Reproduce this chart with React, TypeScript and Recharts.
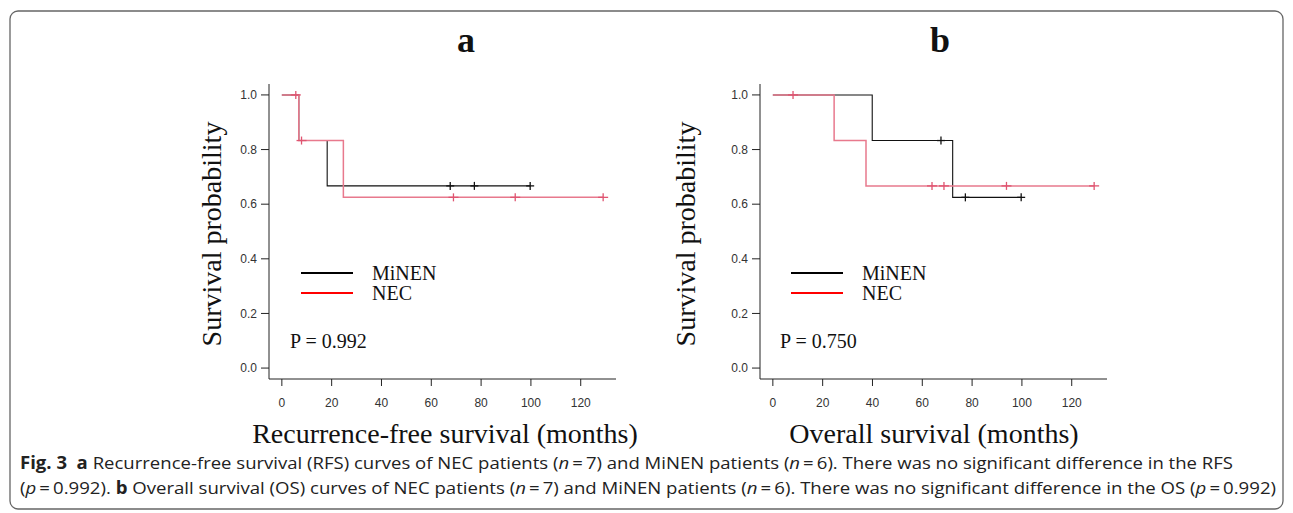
import React from 'react';
import { ComposedChart, Line, Scatter, XAxis, YAxis } from 'recharts';

// RFS panel (a)
const rfsMinenTimes = [0, 6.8, 18.2, 99.7];
const rfsMinenSurv = [1, 0.833, 0.667, 0.667];
const rfsMinenCensorTimes = [67.6, 77.3, 99.7];
const rfsMinenCensorSurv = [0.667, 0.667, 0.667];

const rfsNecTimes = [0, 6.8, 24.7, 129];
const rfsNecSurv = [1, 0.833, 0.625, 0.625];
const rfsNecCensorTimes = [5.6, 7.9, 68.9, 93.7, 129];
const rfsNecCensorSurv = [1, 0.833, 0.625, 0.625, 0.625];

// OS panel (b)
const osMinenTimes = [0, 39.9, 72.2, 99.7];
const osMinenSurv = [1, 0.833, 0.625, 0.625];
const osMinenCensorTimes = [67.5, 77.3, 99.7];
const osMinenCensorSurv = [0.833, 0.625, 0.625];

const osNecTimes = [0, 24.6, 37.4, 129];
const osNecSurv = [1, 0.833, 0.667, 0.667];
const osNecCensorTimes = [8.1, 63.9, 68.7, 93.8, 129];
const osNecCensorSurv = [1, 0.667, 0.667, 0.667, 0.667];

const xTicks = [0, 20, 40, 60, 80, 100, 120];
const yTicks = [0, 0.2, 0.4, 0.6, 0.8, 1.0];
const groups = ['MiNEN', 'NEC'];

const zip = (xs: number[], ys: number[]) => xs.map((x, i) => ({ x, y: ys[i] }));

const BLACK = '#111';
const PINK = '#e8798d';
const PINK_MARK = '#df5470';

const plus = (color: string, arm: number) => (p: any) => {
  const { cx, cy } = p;
  if (cx == null || cy == null) return <g />;
  return (
    <g>
      <line x1={cx - arm} x2={cx + arm} y1={cy} y2={cy} stroke={color} strokeWidth={1.3} />
      <line x1={cx} x2={cx} y1={cy - 4} y2={cy + 4} stroke={color} strokeWidth={1.3} />
    </g>
  );
};

const tickStyle = { fontFamily: '"Liberation Sans", Arial, sans-serif', fontSize: 12, fill: '#333' };

interface PanelProps {
  left: number;
  minen: { x: number; y: number }[];
  nec: { x: number; y: number }[];
  minenCensor: { x: number; y: number }[];
  necCensor: { x: number; y: number }[];
}

const Panel: React.FC<PanelProps> = ({ left, minen, nec, minenCensor, necCensor }) => (
  <div style={{ position: 'absolute', left, top: 0 }}>
    <ComposedChart width={700} height={513} margin={{ top: 84, right: 84, bottom: 104, left: 209 }}>
      <XAxis
        dataKey="x"
        type="number"
        domain={[-5.16, 134.16]}
        allowDataOverflow
        ticks={xTicks}
        tickSize={7}
        tickMargin={12}
        height={30}
        tick={tickStyle}
        stroke="#222"
      />
      <YAxis
        dataKey="y"
        type="number"
        domain={[-0.04, 1.04]}
        allowDataOverflow
        ticks={yTicks}
        tickFormatter={(v: number) => v.toFixed(1)}
        tickSize={8}
        tickMargin={4}
        width={60}
        tick={tickStyle}
        stroke="#222"
      />
      <Line data={minen} dataKey="y" type="stepAfter" stroke={BLACK} strokeWidth={1.1} dot={false} activeDot={false} isAnimationActive={false} />
      <Line data={nec} dataKey="y" type="stepAfter" stroke={PINK} strokeWidth={1.5} dot={false} activeDot={false} isAnimationActive={false} />
      <Scatter data={minenCensor} dataKey="y" shape={plus(BLACK, 4)} isAnimationActive={false} />
      <Scatter data={necCensor} dataKey="y" shape={plus(PINK_MARK, 5)} isAnimationActive={false} />
    </ComposedChart>
  </div>
);

const serif = '"Liberation Serif", "Times New Roman", serif';
const sans = '"Open Sans", "Noto Sans", sans-serif';

const Legend: React.FC<{ x: number; px: number; p: string }> = ({ x, px, p }) => (
  <g fontFamily={serif} fontSize={20} fill="#111">
    <line x1={x} x2={x + 52} y1={273} y2={273} stroke="#000" strokeWidth={2} />
    <line x1={x} x2={x + 52} y1={293} y2={293} stroke="#ff0000" strokeWidth={2} />
    <text x={x + 71} y={280}>{groups[0]}</text>
    <text x={x + 71} y={300}>{groups[1]}</text>
    <text x={px} y={348}>{p}</text>
  </g>
);

export default function App() {
  return (
    <div style={{ position: 'absolute', left: 0, top: 0, width: 1293, height: 513, background: '#fff' }}>
      <Panel
        left={0}
        minen={zip(rfsMinenTimes, rfsMinenSurv)}
        nec={zip(rfsNecTimes, rfsNecSurv)}
        minenCensor={zip(rfsMinenCensorTimes, rfsMinenCensorSurv)}
        necCensor={zip(rfsNecCensorTimes, rfsNecCensorSurv)}
      />
      <Panel
        left={491}
        minen={zip(osMinenTimes, osMinenSurv)}
        nec={zip(osNecTimes, osNecSurv)}
        minenCensor={zip(osMinenCensorTimes, osMinenCensorSurv)}
        necCensor={zip(osNecCensorTimes, osNecCensorSurv)}
      />
      <svg width={1293} height={513} style={{ position: 'absolute', left: 0, top: 0, pointerEvents: 'none' }}>
        <rect x={10} y={11} width={1273} height={498} rx={8} fill="none" stroke="#666" strokeWidth={1.3} />
        <text x={466} y={52} textAnchor="middle" fontFamily={serif} fontSize={36} fontWeight="bold" fill="#111">a</text>
        <text x={940} y={52} textAnchor="middle" fontFamily={serif} fontSize={36} fontWeight="bold" fill="#111">b</text>
        <text transform="translate(221,234) rotate(-90)" textAnchor="middle" fontFamily={serif} fontSize={28} fill="#111">Survival probability</text>
        <text transform="translate(695,234) rotate(-90)" textAnchor="middle" fontFamily={serif} fontSize={28} fill="#111">Survival probability</text>
        <text x={445} y={443} textAnchor="middle" fontFamily={serif} fontSize={28} fill="#111">Recurrence-free survival (months)</text>
        <text x={934} y={443} textAnchor="middle" fontFamily={serif} fontSize={28} fill="#111">Overall survival (months)</text>
        <Legend x={301} px={290} p="P = 0.992" />
        <Legend x={791} px={780} p="P = 0.750" />
        <g fontFamily={sans} fontSize={17} fill="#222">
          <text x={20} y={469} textLength={1213} lengthAdjust="spacingAndGlyphs">
            <tspan fontWeight="bold">Fig. 3</tspan>
            <tspan>{'\u00a0\u00a0'}</tspan>
            <tspan fontWeight="bold">a</tspan>
            <tspan>{' Recurrence-free survival (RFS) curves of NEC patients ('}</tspan>
            <tspan fontStyle="italic">n</tspan>
            <tspan>{'\u2009=\u20097) and MiNEN patients ('}</tspan>
            <tspan fontStyle="italic">n</tspan>
            <tspan>{'\u2009=\u20096). There was no significant difference in the RFS'}</tspan>
          </text>
          <text x={20} y={494} textLength={1256} lengthAdjust="spacingAndGlyphs">
            <tspan>(</tspan>
            <tspan fontStyle="italic">p</tspan>
            <tspan>{'\u2009=\u20090.992). '}</tspan>
            <tspan fontWeight="bold">b</tspan>
            <tspan>{' Overall survival (OS) curves of NEC patients ('}</tspan>
            <tspan fontStyle="italic">n</tspan>
            <tspan>{'\u2009=\u20097) and MiNEN patients ('}</tspan>
            <tspan fontStyle="italic">n</tspan>
            <tspan>{'\u2009=\u20096). There was no significant difference in the OS ('}</tspan>
            <tspan fontStyle="italic">p</tspan>
            <tspan>{'\u2009=\u20090.992)'}</tspan>
          </text>
        </g>
      </svg>
    </div>
  );
}
